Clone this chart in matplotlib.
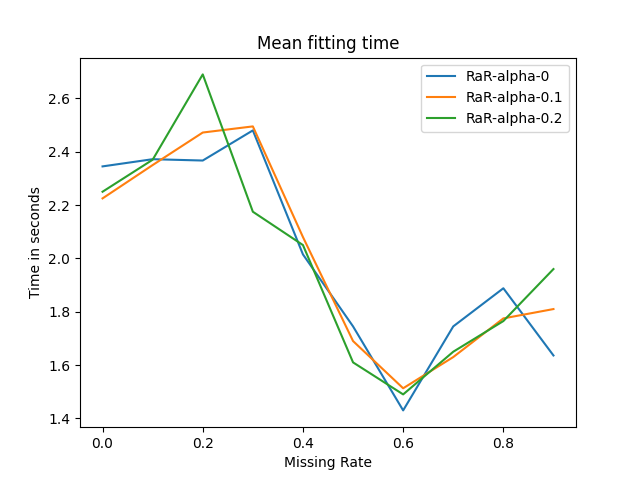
import matplotlib
matplotlib.use('Agg')
import matplotlib.pyplot as plt

missing_rate = [0.0, 0.1, 0.2, 0.3, 0.4, 0.5, 0.6, 0.7, 0.8, 0.9]
alpha_0 = [2.345, 2.372, 2.367, 2.48, 2.015, 1.745, 1.43, 1.745, 1.888, 1.636]
alpha_01 = [2.225, 2.35, 2.472, 2.495, 2.08, 1.69, 1.513, 1.63, 1.775, 1.81]
alpha_02 = [2.25, 2.37, 2.69, 2.175, 2.05, 1.61, 1.49, 1.65, 1.765, 1.96]

fig, ax = plt.subplots(figsize=(6.4, 4.8), dpi=100)
ax.plot(missing_rate, alpha_0, label="RaR-alpha-0")
ax.plot(missing_rate, alpha_01, label="RaR-alpha-0.1")
ax.plot(missing_rate, alpha_02, label="RaR-alpha-0.2")
ax.set_title("Mean fitting time")
ax.set_xlabel("Missing Rate")
ax.set_ylabel("Time in seconds")
ax.legend(loc="upper right")
fig.savefig("out.png")
